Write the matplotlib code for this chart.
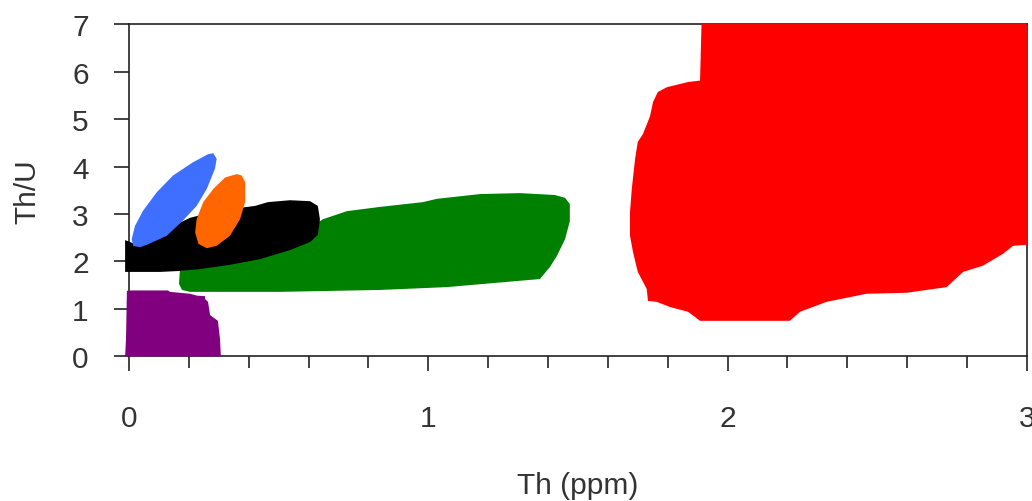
import matplotlib
matplotlib.use("Agg")
import matplotlib.pyplot as plt
from matplotlib.ticker import MultipleLocator

plt.rcParams['font.family'] = ['Liberation Sans', 'DejaVu Sans']

# field outlines: Th (ppm) vs Th/U
purple_x = [-0.013, -0.010, -0.007, 0.007, 0.130, 0.137, 0.204, 0.227, 0.254, 0.254, 0.264, 0.271, 0.297, 0.304, 0.307]
purple_y = [0.00, 0.37, 1.38, 1.39, 1.39, 1.36, 1.32, 1.28, 1.27, 1.21, 1.15, 0.87, 0.75, 0.37, 0.00]

green_x = [0.170, 0.167, 0.177, 0.204, 0.505, 0.839, 1.062, 1.373, 1.406, 1.430, 1.457, 1.473, 1.473,
           1.457, 1.423, 1.306, 1.173, 1.029, 0.982, 0.839, 0.728, 0.648, 0.571, 0.404, 0.237]
green_y = [1.80, 1.53, 1.40, 1.36, 1.36, 1.40, 1.46, 1.63, 1.88, 2.12, 2.47, 2.85, 3.21,
           3.34, 3.40, 3.44, 3.42, 3.32, 3.25, 3.15, 3.06, 2.89, 2.58, 2.16, 1.88]

black_x = [-0.013, -0.013, 0.104, 0.170, 0.237, 0.337, 0.438, 0.538, 0.605, 0.631, 0.638, 0.631,
           0.605, 0.538, 0.464, 0.421, 0.371, 0.321, 0.254, 0.204, 0.154, 0.104, 0.053, 0.020]
black_y = [2.45, 1.78, 1.78, 1.80, 1.84, 1.93, 2.05, 2.24, 2.41, 2.56, 2.89, 3.17,
           3.27, 3.29, 3.25, 3.17, 3.13, 3.08, 3.00, 2.92, 2.77, 2.56, 2.39, 2.37]

blue_x = [0.014, 0.037, 0.059, 0.126, 0.180, 0.226, 0.260, 0.287, 0.293, 0.282, 0.264, 0.214,
          0.147, 0.093, 0.047, 0.020, 0.009]
blue_y = [2.33, 2.30, 2.35, 2.54, 2.86, 3.17, 3.53, 3.95, 4.16, 4.28, 4.26, 4.09,
          3.81, 3.46, 3.07, 2.75, 2.47]

orange_x = [0.360, 0.377, 0.388, 0.388, 0.371, 0.337, 0.293, 0.260, 0.232, 0.221, 0.226, 0.248, 0.282, 0.321]
orange_y = [3.84, 3.81, 3.67, 3.25, 2.89, 2.54, 2.33, 2.28, 2.37, 2.61, 2.89, 3.25, 3.53, 3.77]

red_x = [1.913, 1.908, 1.868, 1.797, 1.767, 1.751, 1.741, 1.717, 1.700, 1.691, 1.680, 1.674, 1.674,
         1.684, 1.700, 1.730, 1.734, 1.763, 1.808, 1.868, 1.908, 2.208, 2.242, 2.331, 2.465, 2.598,
         2.732, 2.787, 2.853, 2.920, 2.954, 3.000, 3.000]
red_y = [7.00, 5.81, 5.78, 5.67, 5.57, 5.36, 5.06, 4.68, 4.52, 4.16, 3.53, 3.04, 2.54,
         2.20, 1.78, 1.42, 1.17, 1.15, 1.04, 0.94, 0.75, 0.75, 0.94, 1.15, 1.32, 1.34,
         1.46, 1.78, 1.91, 2.16, 2.33, 2.35, 7.00]

fields = [
    (purple_x, purple_y, '#800080'),
    (green_x, green_y, '#008000'),
    (black_x, black_y, '#000000'),
    (blue_x, blue_y, '#3f6fff'),
    (orange_x, orange_y, '#ff6600'),
    (red_x, red_y, '#ff0000'),
]

fig = plt.figure(figsize=(10.32, 5.02), dpi=100)
ax = fig.add_axes([0.125, 0.288, 0.870, 0.662])

# fields sit on top of the frame, like in the original
for xs, ys, col in fields:
    ax.fill(xs, ys, color=col, lw=0, zorder=3, clip_on=False)

ax.set_xlim(0, 3)
ax.set_ylim(0, 7)
ax.xaxis.set_major_locator(MultipleLocator(1))
ax.xaxis.set_minor_locator(MultipleLocator(0.2))
ax.yaxis.set_major_locator(MultipleLocator(1))

txt = '#333333'
for s in ax.spines.values():
    s.set_color('#222222')
    s.set_linewidth(1.2)
ax.tick_params(axis='x', which='major', length=11, width=1.2, pad=23, labelsize=21.5, colors='#222222', labelcolor=txt)
ax.tick_params(axis='x', which='minor', length=8.5, width=1.2, colors='#222222')
ax.tick_params(axis='y', which='major', length=11, width=1.2, pad=18, labelsize=21.5, colors='#222222', labelcolor=txt)

ax.set_xlabel('Th (ppm)', fontsize=21.5, color=txt, labelpad=28)
ax.set_ylabel('Th/U', fontsize=21.5, color=txt, labelpad=22)

fig.savefig('out.png', dpi=100)
